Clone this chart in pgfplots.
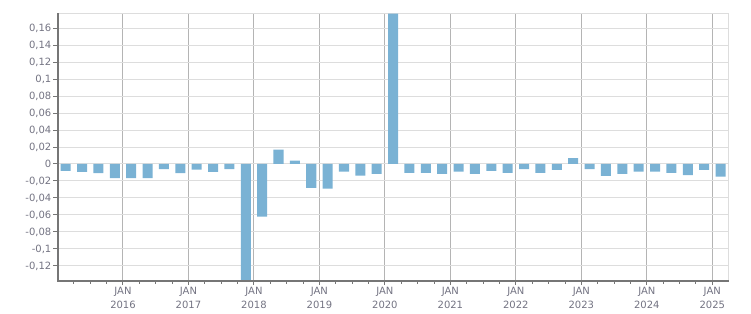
\documentclass[border=0pt]{standalone}
\usepackage{fontspec}
\setmainfont{DejaVu Sans}
\usepackage{pgfplots}
\pgfplotsset{compat=1.18}
\definecolor{barblue}{RGB}{122,178,212}
\definecolor{lbl}{RGB}{115,115,130}
\definecolor{axdark}{RGB}{118,118,118}
\definecolor{gridlight}{RGB}{221,221,221}
\definecolor{gridmid}{RGB}{180,180,180}
\begin{document}
\begin{tikzpicture}
\useasboundingbox (0,0) rectangle (751pt,313pt);
\begin{axis}[
  at={(57.5pt,32.3pt)}, anchor=south west,
  scale only axis, width=671.2pt, height=267.4pt,
  xmin=2015, xmax=2025.25,
  ymin=-0.1373, ymax=0.1773,
  clip mode=individual,
  axis line style={gridlight, line width=1pt},
  tick pos=left, tick align=outside,
  major tick length=4.5pt, minor tick length=3pt,
  every tick/.style={axdark, line width=1pt},
  xtick={2016,...,2025},
  xticklabels={JAN\\2016,JAN\\2017,JAN\\2018,JAN\\2019,JAN\\2020,JAN\\2021,JAN\\2022,JAN\\2023,JAN\\2024,JAN\\2025},
  minor xtick={2015.25,2015.5,2015.75,2016.25,2016.5,2016.75,2017.25,2017.5,2017.75,2018.25,2018.5,2018.75,2019.25,2019.5,2019.75,2020.25,2020.5,2020.75,2021.25,2021.5,2021.75,2022.25,2022.5,2022.75,2023.25,2023.5,2023.75,2024.25,2024.5,2024.75},
  xticklabel style={align=center, font=\fontsize{10}{13.5}\selectfont, text=lbl, inner sep=2pt},
  ytick={-0.12,-0.10,-0.08,-0.06,-0.04,-0.02,0,0.02,0.04,0.06,0.08,0.10,0.12,0.14,0.16},
  yticklabel style={font=\fontsize{10}{11}\selectfont, text=lbl, inner sep=1.5pt,
    /pgf/number format/.cd, fixed, precision=2, use comma, assume math mode=true},
  xmajorgrids, ymajorgrids,
  x grid style={gridmid, line width=1pt},
  y grid style={gridlight, line width=1pt},
  ybar, bar width=0.153, bar shift=0pt,
]
\addplot[fill=barblue, draw=none] coordinates {
(2015.125,-0.008) (2015.375,-0.0094) (2015.625,-0.0106) (2015.875,-0.0165)
(2016.125,-0.0165) (2016.375,-0.0165) (2016.625,-0.006) (2016.875,-0.0106)
(2017.125,-0.0067) (2017.375,-0.0094) (2017.625,-0.006) (2017.875,-0.137)
(2018.125,-0.062) (2018.375,0.017) (2018.625,0.004) (2018.875,-0.028)
(2019.125,-0.029) (2019.375,-0.009) (2019.625,-0.0138) (2019.875,-0.0115)
(2020.125,0.177) (2020.375,-0.0103) (2020.625,-0.0103) (2020.875,-0.0115)
(2021.125,-0.009) (2021.375,-0.0115) (2021.625,-0.008) (2021.875,-0.0103)
(2022.125,-0.006) (2022.375,-0.0103) (2022.625,-0.007) (2022.875,0.007)
(2023.125,-0.006) (2023.375,-0.014) (2023.625,-0.0115) (2023.875,-0.009)
(2024.125,-0.009) (2024.375,-0.0103) (2024.625,-0.013) (2024.875,-0.007)
(2025.125,-0.015)
};
\draw[axdark, line width=2pt] (rel axis cs:0,1) -- (rel axis cs:0,0) -- (rel axis cs:1,0);
\end{axis}
\end{tikzpicture}
\end{document}
